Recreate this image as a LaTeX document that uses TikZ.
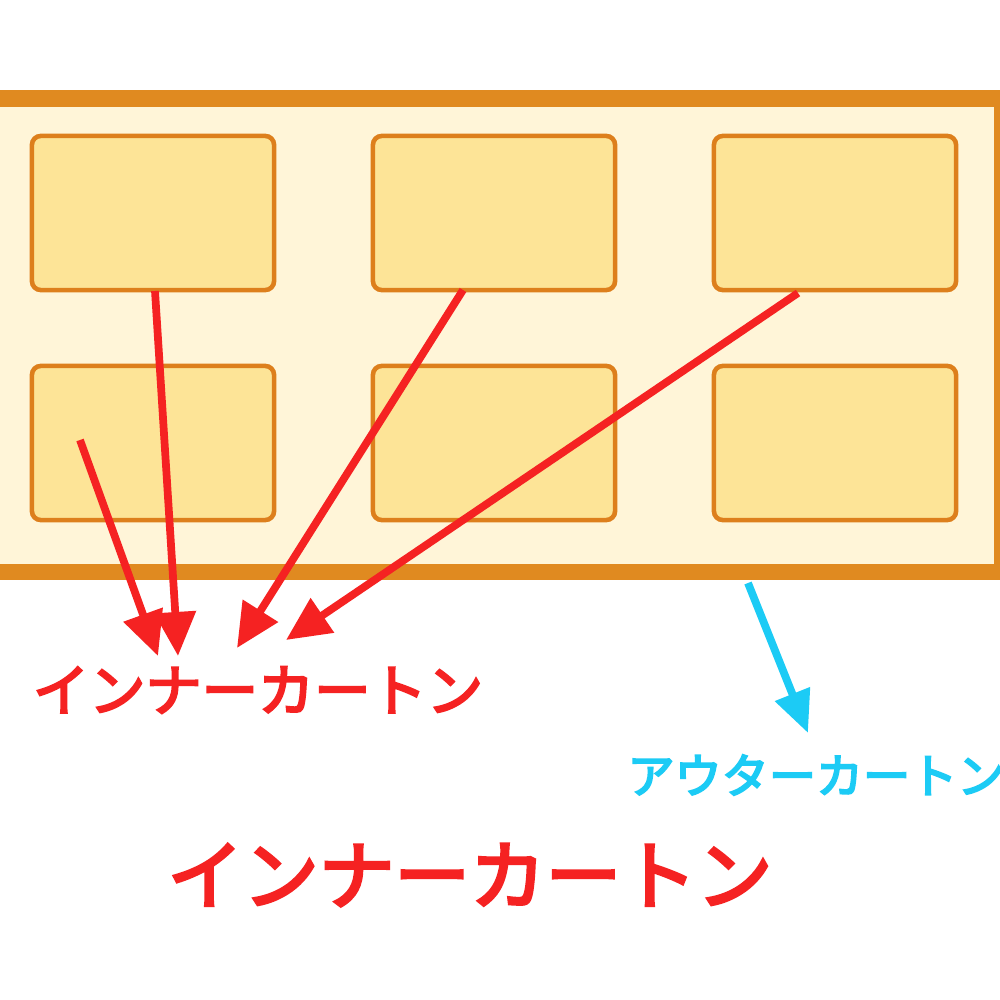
\documentclass[tikz,border=0pt]{standalone}
\usepackage{fontspec}
\newfontfamily\jpfont{Noto Sans CJK JP}[FakeBold=4]
\usepackage{tikz}
\usetikzlibrary{arrows.meta, positioning}

\definecolor{cartonorange}{HTML}{E08A20}
\definecolor{cartonfill}{HTML}{FFF5D8}
\definecolor{innerfill}{HTML}{FDE497}
\definecolor{innerline}{HTML}{DD7F1C}
\definecolor{labelred}{HTML}{F52222}
\definecolor{labelblue}{HTML}{1CCBF5}

\begin{document}
\begin{tikzpicture}[x=0.01cm, y=-0.01cm,
    inner/.style={draw=innerline, fill=innerfill, line width=1.3pt,
      rounded corners=2.5pt, minimum width=2.42cm, minimum height=1.54cm,
      inner sep=0pt},
    redarrow/.style={draw=labelred, line width=2.2pt,
      -{Triangle[length=0.44cm, width=0.4cm]}},
    bluearrow/.style={draw=labelblue, line width=2.2pt,
      -{Triangle[length=0.42cm, width=0.36cm]}}]

    \useasboundingbox (0,0) rectangle (1000,1000);
    \fill[white] (0,0) rectangle (1000,1000);

    % outer carton
    \fill[cartonfill] (0,100) rectangle (996,570);
    \fill[cartonorange] (0,90) rectangle (1000,107);
    \fill[cartonorange] (0,564) rectangle (1000,580);
    \fill[cartonorange] (994,90) rectangle (1000,580);

    % inner cartons
    \foreach \col/\x in {1/153, 2/494, 3/835} {
        \node[inner] (box\col a) at (\x,213) {};
        \node[inner] (box\col b) at (\x,443) {};
    };

    \node[text=labelred, font=\jpfont\fontsize{16}{19}\selectfont]
        (innerlabel) at (258,690) {インナーカートン};
    \node[text=labelblue, font=\jpfont\fontsize{13.4}{16}\selectfont]
        (outerlabel) at (816,775) {アウターカートン};
    \node[text=labelred, font=\jpfont\fontsize{21.5}{25}\selectfont]
        (title) at (470,875) {インナーカートン};

    \coordinate (tail1) at (80,440);
    \coordinate (tail2) at (155,291);
    \coordinate (tail3) at (463,290);
    \coordinate (tail4) at (798,293);
    \coordinate (head1) at (158,656);
    \coordinate (head2) at (178,656);
    \coordinate (head3) at (237,648);
    \coordinate (head4) at (286,640);

    \foreach \i in {1,...,4}
        \draw[redarrow] (tail\i) -- (head\i);

    \coordinate (outertail) at (748,583);
    \coordinate (outerhead) at (808,733);
    \draw[bluearrow] (outertail) -- (outerhead);
\end{tikzpicture}
\end{document}
